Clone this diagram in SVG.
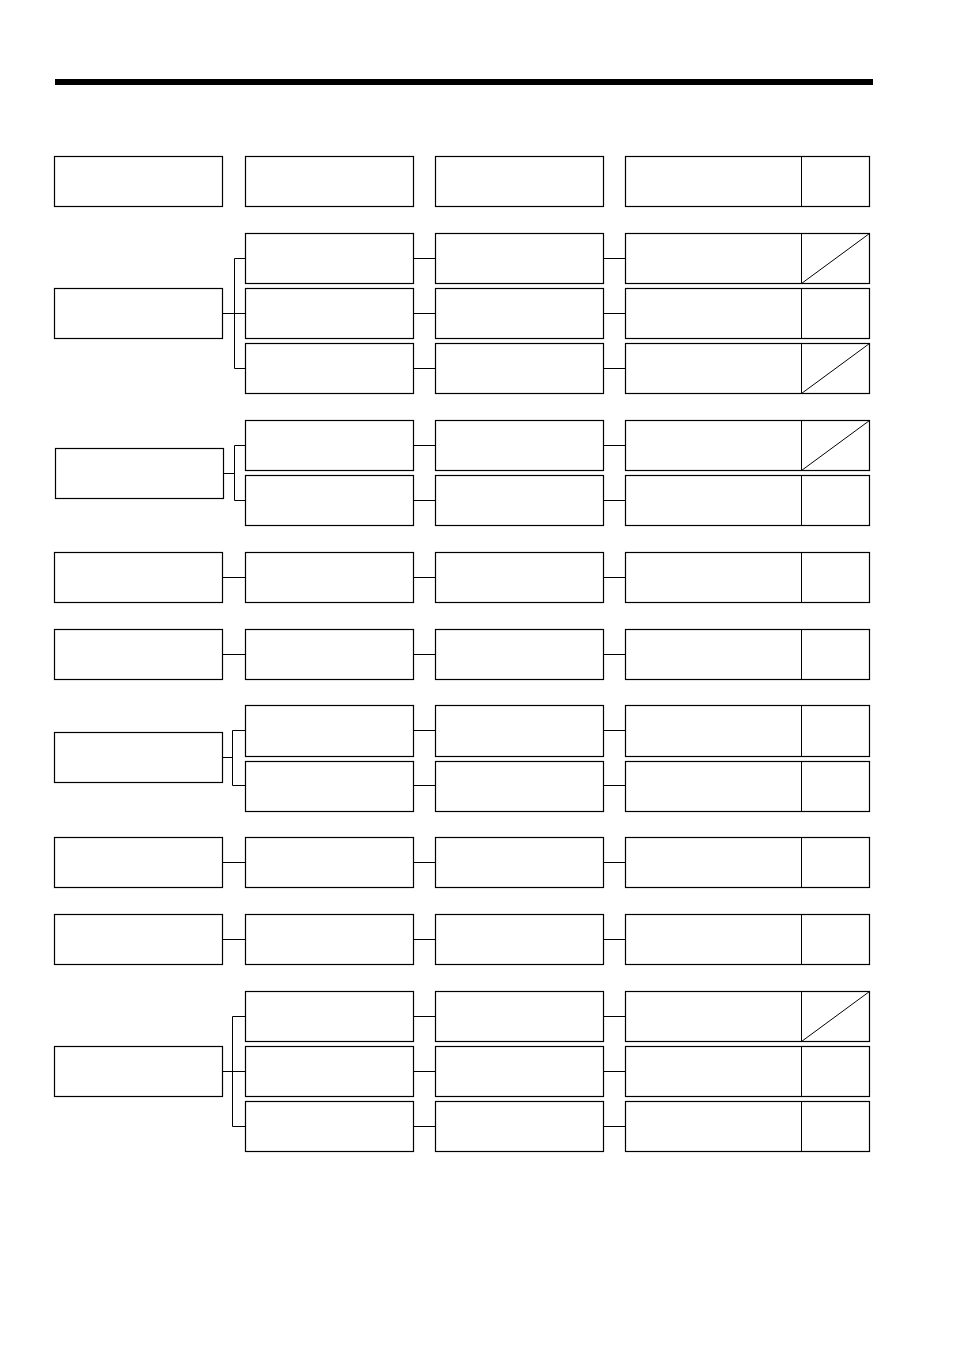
<svg xmlns="http://www.w3.org/2000/svg" width="954" height="1351" viewBox="0 0 954 1351">
<style>
.n{fill:#fff;stroke:#000;stroke-width:1.2}
.c{fill:none;stroke:#000;stroke-width:1}
.d{stroke:#000;stroke-width:1}
</style>
<rect x="0" y="0" width="954" height="1351" fill="#fff"/>
<rect x="55" y="79" width="818" height="6" fill="#000"/>
<g id="connectors" class="c">
<path d="M222.5 313.5H234.5M234.5 258.5V368.5M234.5 258.5H245.5M234.5 313.5H245.5M234.5 368.5H245.5"/>
<path d="M413.5 258.5H435.5M603.5 258.5H625.5M413.5 313.5H435.5M603.5 313.5H625.5M413.5 368.5H435.5M603.5 368.5H625.5"/>
<path d="M223.5 473.5H234.5M234.5 445.5V500.5M234.5 445.5H245.5M234.5 500.5H245.5"/>
<path d="M413.5 445.5H435.5M603.5 445.5H625.5M413.5 500.5H435.5M603.5 500.5H625.5"/>
<path d="M222.5 577.5H245.5M413.5 577.5H435.5M603.5 577.5H625.5"/>
<path d="M222.5 654.5H245.5M413.5 654.5H435.5M603.5 654.5H625.5"/>
<path d="M222.5 757.5H232.5M232.5 730.5V785.5M232.5 730.5H245.5M232.5 785.5H245.5"/>
<path d="M413.5 730.5H435.5M603.5 730.5H625.5M413.5 785.5H435.5M603.5 785.5H625.5"/>
<path d="M222.5 862.5H245.5M413.5 862.5H435.5M603.5 862.5H625.5"/>
<path d="M222.5 939.5H245.5M413.5 939.5H435.5M603.5 939.5H625.5"/>
<path d="M222.5 1071.5H232.5M232.5 1016.5V1126.5M232.5 1016.5H245.5M232.5 1071.5H245.5M232.5 1126.5H245.5"/>
<path d="M413.5 1016.5H435.5M603.5 1016.5H625.5M413.5 1071.5H435.5M603.5 1071.5H625.5M413.5 1126.5H435.5M603.5 1126.5H625.5"/>
</g>
<g id="header">
<rect class="n" x="54.5" y="156.5" width="168" height="50"/>
<rect class="n" x="245.5" y="156.5" width="168" height="50"/>
<rect class="n" x="435.5" y="156.5" width="168" height="50"/>
<rect class="n" x="625.5" y="156.5" width="244" height="50"/>
<line class="d" x1="801.5" y1="156.5" x2="801.5" y2="206.5"/>
</g>
<g id="groupA">
<rect id="a0" class="n" x="54.5" y="288.5" width="168" height="50"/>
<rect id="a1" class="n" x="245.5" y="233.5" width="168" height="50"/>
<rect id="a2" class="n" x="435.5" y="233.5" width="168" height="50"/>
<rect id="a3" class="n" x="625.5" y="233.5" width="244" height="50"/>
<line class="d" x1="801.5" y1="233.5" x2="801.5" y2="283.5"/>
<line class="d" x1="801.5" y1="283.5" x2="869.5" y2="233.5"/>
<rect id="a4" class="n" x="245.5" y="288.5" width="168" height="50"/>
<rect id="a5" class="n" x="435.5" y="288.5" width="168" height="50"/>
<rect id="a6" class="n" x="625.5" y="288.5" width="244" height="50"/>
<line class="d" x1="801.5" y1="288.5" x2="801.5" y2="338.5"/>
<rect id="a7" class="n" x="245.5" y="343.5" width="168" height="50"/>
<rect id="a8" class="n" x="435.5" y="343.5" width="168" height="50"/>
<rect id="a9" class="n" x="625.5" y="343.5" width="244" height="50"/>
<line class="d" x1="801.5" y1="343.5" x2="801.5" y2="393.5"/>
<line class="d" x1="801.5" y1="393.5" x2="869.5" y2="343.5"/>
</g>
<g id="groupB">
<rect id="b0" class="n" x="55.5" y="448.5" width="168" height="50"/>
<rect id="b1" class="n" x="245.5" y="420.5" width="168" height="50"/>
<rect id="b2" class="n" x="435.5" y="420.5" width="168" height="50"/>
<rect id="b3" class="n" x="625.5" y="420.5" width="244" height="50"/>
<line class="d" x1="801.5" y1="420.5" x2="801.5" y2="470.5"/>
<line class="d" x1="801.5" y1="470.5" x2="869.5" y2="420.5"/>
<rect id="b4" class="n" x="245.5" y="475.5" width="168" height="50"/>
<rect id="b5" class="n" x="435.5" y="475.5" width="168" height="50"/>
<rect id="b6" class="n" x="625.5" y="475.5" width="244" height="50"/>
<line class="d" x1="801.5" y1="475.5" x2="801.5" y2="525.5"/>
</g>
<g id="rowC">
<rect class="n" x="54.5" y="552.5" width="168" height="50"/>
<rect class="n" x="245.5" y="552.5" width="168" height="50"/>
<rect class="n" x="435.5" y="552.5" width="168" height="50"/>
<rect class="n" x="625.5" y="552.5" width="244" height="50"/>
<line class="d" x1="801.5" y1="552.5" x2="801.5" y2="602.5"/>
</g>
<g id="rowD">
<rect class="n" x="54.5" y="629.5" width="168" height="50"/>
<rect class="n" x="245.5" y="629.5" width="168" height="50"/>
<rect class="n" x="435.5" y="629.5" width="168" height="50"/>
<rect class="n" x="625.5" y="629.5" width="244" height="50"/>
<line class="d" x1="801.5" y1="629.5" x2="801.5" y2="679.5"/>
</g>
<g id="groupE">
<rect class="n" x="54.5" y="732.5" width="168" height="50"/>
<rect class="n" x="245.5" y="705.5" width="168" height="51"/>
<rect class="n" x="435.5" y="705.5" width="168" height="51"/>
<rect class="n" x="625.5" y="705.5" width="244" height="51"/>
<line class="d" x1="801.5" y1="705.5" x2="801.5" y2="756.5"/>
<rect class="n" x="245.5" y="761.5" width="168" height="50"/>
<rect class="n" x="435.5" y="761.5" width="168" height="50"/>
<rect class="n" x="625.5" y="761.5" width="244" height="50"/>
<line class="d" x1="801.5" y1="761.5" x2="801.5" y2="811.5"/>
</g>
<g id="rowF">
<rect class="n" x="54.5" y="837.5" width="168" height="50"/>
<rect class="n" x="245.5" y="837.5" width="168" height="50"/>
<rect class="n" x="435.5" y="837.5" width="168" height="50"/>
<rect class="n" x="625.5" y="837.5" width="244" height="50"/>
<line class="d" x1="801.5" y1="837.5" x2="801.5" y2="887.5"/>
</g>
<g id="rowG">
<rect class="n" x="54.5" y="914.5" width="168" height="50"/>
<rect class="n" x="245.5" y="914.5" width="168" height="50"/>
<rect class="n" x="435.5" y="914.5" width="168" height="50"/>
<rect class="n" x="625.5" y="914.5" width="244" height="50"/>
<line class="d" x1="801.5" y1="914.5" x2="801.5" y2="964.5"/>
</g>
<g id="groupH">
<rect class="n" x="54.5" y="1046.5" width="168" height="50"/>
<rect class="n" x="245.5" y="991.5" width="168" height="50"/>
<rect class="n" x="435.5" y="991.5" width="168" height="50"/>
<rect class="n" x="625.5" y="991.5" width="244" height="50"/>
<line class="d" x1="801.5" y1="991.5" x2="801.5" y2="1041.5"/>
<line class="d" x1="801.5" y1="1041.5" x2="869.5" y2="991.5"/>
<rect class="n" x="245.5" y="1046.5" width="168" height="50"/>
<rect class="n" x="435.5" y="1046.5" width="168" height="50"/>
<rect class="n" x="625.5" y="1046.5" width="244" height="50"/>
<line class="d" x1="801.5" y1="1046.5" x2="801.5" y2="1096.5"/>
<rect class="n" x="245.5" y="1101.5" width="168" height="50"/>
<rect class="n" x="435.5" y="1101.5" width="168" height="50"/>
<rect class="n" x="625.5" y="1101.5" width="244" height="50"/>
<line class="d" x1="801.5" y1="1101.5" x2="801.5" y2="1151.5"/>
</g>
</svg>
